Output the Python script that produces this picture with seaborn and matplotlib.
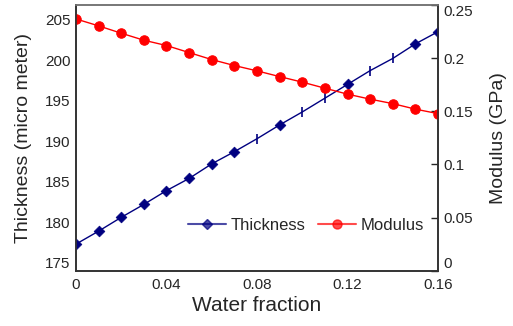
import numpy as np
import pandas as pd
import matplotlib
matplotlib.use("Agg")
import matplotlib.pyplot as plt
from matplotlib.lines import Line2D
from matplotlib.ticker import FuncFormatter
import seaborn as sns

# ======== DATA ========
water = [0.00, 0.01, 0.02, 0.03, 0.04, 0.05, 0.06, 0.07, 0.08,
         0.09, 0.10, 0.11, 0.12, 0.13, 0.14, 0.15, 0.16]
thickness = [177.3, 178.9, 180.6, 182.2, 183.9, 185.4, 187.2, 188.7, 190.3,
             192.0, 193.6, 195.3, 197.0, 198.7, 200.2, 202.0, 203.5]
modulus = [0.2368, 0.2303, 0.2234, 0.2168, 0.2118, 0.2052, 0.1986, 0.1930, 0.1880,
           0.1826, 0.1774, 0.1717, 0.1661, 0.1614, 0.1572, 0.1520, 0.1478]
# points of the thickness series drawn as a tick mark instead of a diamond
tick_points = [0.08, 0.10, 0.11, 0.13, 0.14]

x_ticks = [0, 0.04, 0.08, 0.12, 0.16]
left_ticks = [175, 180, 185, 190, 195, 200, 205]
right_ticks = [0, 0.05, 0.1, 0.15, 0.2, 0.25]

df = pd.DataFrame({"water": water, "thickness": thickness, "modulus": modulus})
is_tick = df["water"].round(2).isin(tick_points)

BLUE = "#000080"
RED = "#ff0000"

# ======== STYLE ========
sns.set_style("white")
plt.rcParams["font.family"] = ["Liberation Sans", "DejaVu Sans"]

fig = plt.figure(figsize=(5.13, 3.26), dpi=100)
ax = fig.add_axes([0.148, 0.169, 0.706, 0.816])
ax2 = ax.twinx()

# ======== THICKNESS ========
sns.lineplot(data=df, x="water", y="thickness", ax=ax, color=BLUE, lw=1)
sns.scatterplot(data=df[~is_tick], x="water", y="thickness", ax=ax, color=BLUE,
                marker="D", s=30, edgecolor=BLUE, linewidth=0.5, zorder=3)
sns.scatterplot(data=df[is_tick], x="water", y="thickness", ax=ax, color=BLUE,
                marker="|", s=60, linewidth=1.2, zorder=3)

# ======== MODULUS ========
sns.lineplot(data=df, x="water", y="modulus", ax=ax2, color=RED, lw=1,
             marker="o", markersize=6.8, markeredgecolor=RED)

# ======== AXES ========
ax.set_xlim(0, 0.16)
ax.set_ylim(174.0, 206.8)
ax2.set_ylim(0, 0.25)
ax.set_xticks(x_ticks)
ax.set_yticks(left_ticks)
ax2.set_yticks(right_ticks)
fmt = FuncFormatter(lambda v, p: f"{v:g}")
ax.xaxis.set_major_formatter(fmt)
ax2.yaxis.set_major_formatter(fmt)

ax.set_xlabel("Water fraction", fontsize=15, labelpad=3)
ax.set_ylabel("Thickness (micro meter)", fontsize=14, labelpad=9)
ax2.set_ylabel("Modulus (GPa)", fontsize=14, labelpad=12)

ax.tick_params(axis="x", direction="in", length=6, width=1, labelsize=11, pad=5)
ax.tick_params(axis="y", length=0, labelsize=11, pad=4)
ax2.tick_params(axis="y", direction="in", length=5, width=1, labelsize=11, pad=4)

# pull the end labels of the right axis inward, as in the original
labels2 = ax2.get_yticklabels()
labels2[0].set_va("bottom")
labels2[-1].set_va("top")

for a in (ax, ax2):
    for side in ["top", "bottom", "left", "right"]:
        a.spines[side].set_color("#333333")
        a.spines[side].set_linewidth(1.2)
    a.spines["top"].set_color("#777777")

# ======== LEGEND ========
handles = [Line2D([], [], color=BLUE, lw=1.5, alpha=0.7, marker="D", markersize=5,
                  markerfacecolor=BLUE, markeredgecolor=BLUE),
           Line2D([], [], color=RED, lw=1.5, alpha=0.7, marker="o", markersize=6.5,
                  markerfacecolor=RED, markeredgecolor=RED)]
ax2.legend(handles, ["Thickness", "Modulus"], ncol=2, frameon=False, fontsize=12,
           loc="center right", bbox_to_anchor=(0.985, 0.17), handlelength=2.3,
           handletextpad=0.3, columnspacing=0.7, borderpad=0)

plt.savefig("out.png", dpi=100)
plt.close()
